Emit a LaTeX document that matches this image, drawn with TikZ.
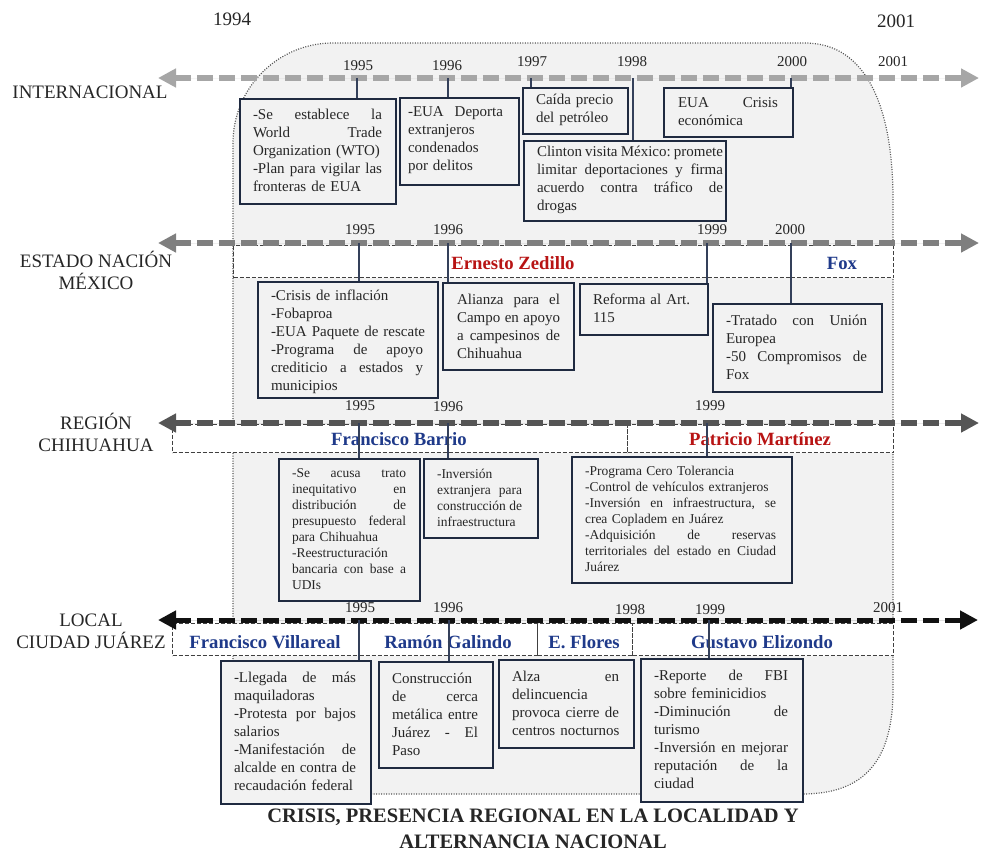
\documentclass[tikz,border=0pt]{standalone}
\usepackage{fontspec}
\setmainfont{Liberation Serif}
\usetikzlibrary{arrows.meta}
\definecolor{bgfill}{HTML}{F2F2F2}
\definecolor{boxc}{HTML}{1F2A40}
\definecolor{tickc}{HTML}{34405A}
\definecolor{txt}{HTML}{262626}
\definecolor{zred}{HTML}{B81414}
\definecolor{zblue}{HTML}{1F3A8A}
\definecolor{arI}{HTML}{A6A6A6}
\definecolor{arE}{HTML}{7F7F7F}
\definecolor{arR}{HTML}{555555}
\definecolor{arL}{HTML}{111111}
\definecolor{bandc}{HTML}{404040}
\definecolor{bgline}{HTML}{555555}
\newlength{\jw}
\newcommand{\T}[1]{\global\jw=#1\relax}
\newcommand{\J}[1]{\leavevmode\hbox to \jw{\frenchspacing\spaceskip=0pt\xspaceskip=0pt #1}}
\newcommand{\N}[1]{\leavevmode\mbox{\frenchspacing #1}}
\begin{document}
\begin{tikzpicture}[x=1pt,y=-1pt,
  evbox/.style={draw=boxc, line width=1.6pt, fill=bgfill, inner sep=0pt, anchor=north west},
  evtext/.style={font=\fontsize{15}{18}\selectfont, text=txt, inner sep=0pt, align=left},
  evsmall/.style={font=\fontsize{13.5}{16}\selectfont, text=txt, inner sep=0pt, align=left},
  bandbox/.style={draw=bandc, dash pattern=on 4pt off 2pt, line width=1.2pt, fill=white, inner sep=0pt, anchor=north west},
  bandred/.style={font=\fontsize{18.7}{22}\selectfont\bfseries, text=zred, inner sep=0pt},
  bandblue/.style={font=\fontsize{18.7}{22}\selectfont\bfseries, text=zblue, inner sep=0pt},
  tl/.style={dash pattern=on 16pt off 6pt, line width=6pt, {Triangle[length=18pt,width=18pt]}-{Triangle[length=18pt,width=18pt]}},
  tick/.style={draw=tickc, line width=1.1pt},
  yr/.style={font=\fontsize{15}{18}\selectfont, text=txt, inner sep=0pt},
  rowlab/.style={font=\fontsize{19}{22}\selectfont, text=txt, inner sep=0pt, align=center},
  bigyr/.style={font=\fontsize{19}{22}\selectfont, text=txt, inner sep=0pt}
]
\useasboundingbox (0,0) rectangle (981,852);

% background
\path[draw=bgline, dash pattern=on 1pt off 1.5pt, line width=1.2pt, fill=bgfill]
  (233,794) -- (233,143) .. controls (233,87.8) and (277.8,43) .. (333,43)
  -- (805,43) .. controls (868,43) and (893,110) .. (893,200)
  -- (893,690) .. controls (893,760) and (865,794) .. (802,794) -- cycle;

% bands
\node[bandbox, minimum width=557pt, minimum height=32pt] (bZed) at (233,245) {};
\node[bandbox, minimum width=103pt, minimum height=32pt] (bFox) at (790,245) {};
\node[bandbox, minimum width=455pt, minimum height=28pt] (bBar) at (172,424) {};
\node[bandbox, minimum width=266pt, minimum height=28pt] (bPat) at (627,424) {};
\node[bandbox, minimum width=187pt, minimum height=32pt] (bVil) at (172,623) {};
\node[bandbox, minimum width=178pt, minimum height=32pt] (bGal) at (359,623) {};
\node[bandbox, minimum width=95pt, minimum height=32pt] (bFlo) at (537,623) {};
\node[bandbox, minimum width=261pt, minimum height=32pt] (bGus) at (632,623) {};

% band labels
\node[bandred] (lZed) at (513,263) {Ernesto Zedillo};
\node[bandblue] (lFox) at (842,263) {Fox};
\node[bandblue] (lBar) at (399,439) {Francisco Barrio};
\node[bandred] (lPat) at (760,439) {Patricio Martínez};
\node[bandblue] (lVil) at (265,642) {Francisco Villareal};
\node[bandblue] (lGal) at (448,642) {Ramón Galindo};
\node[bandblue] (lFlo) at (584,642) {E. Flores};
\node[bandblue] (lGus) at (762,642) {Gustavo Elizondo};

% timeline arrows
\coordinate (iL) at (158,78);  \coordinate (iR) at (979,78);
\coordinate (eL) at (158,243); \coordinate (eR) at (979,243);
\coordinate (rL) at (158,423); \coordinate (rR) at (979,423);
\coordinate (lL) at (158,620); \coordinate (lR) at (978,620);
\draw[tl, draw=arI, fill=arI] (iL) -- (iR);
\draw[tl, draw=arE, fill=arE] (eL) -- (eR);
\draw[tl, draw=arR, fill=arR] (rL) -- (rR);
\draw[tl, draw=arL, fill=arL, line width=5pt] (lL) -- (lR);

% event boxes
\node[evbox, minimum width=156pt, minimum height=105pt] (bA) at (239,98) {};
\node[evbox, minimum width=119pt, minimum height=87pt] (bB) at (399,97) {};
\node[evbox, minimum width=105pt, minimum height=46pt] (bC) at (522,87) {};
\node[evbox, minimum width=202pt, minimum height=80pt] (bD) at (523,140) {};
\node[evbox, minimum width=129pt, minimum height=49pt] (bE) at (663,87) {};
\node[evbox, minimum width=180pt, minimum height=116pt] (bF) at (257,281) {};
\node[evbox, minimum width=131pt, minimum height=87pt] (bG) at (442,282) {};
\node[evbox, minimum width=128pt, minimum height=51pt] (bH) at (579,283) {};
\node[evbox, minimum width=169pt, minimum height=88pt] (bI) at (712,303) {};
\node[evbox, minimum width=141pt, minimum height=142pt] (bJ) at (278,458) {};
\node[evbox, minimum width=114pt, minimum height=79pt] (bK) at (423,458) {};
\node[evbox, minimum width=220pt, minimum height=126pt] (bL) at (571,456) {};
\node[evbox, minimum width=150pt, minimum height=143pt] (bM) at (220,660) {};
\node[evbox, minimum width=114pt, minimum height=106pt] (bN) at (378,661) {};
\node[evbox, minimum width=135pt, minimum height=88pt] (bO) at (498,659) {};
\node[evbox, minimum width=162pt, minimum height=143pt] (bP) at (640,658) {};

% ticks
\coordinate (kA) at (357,78);  \draw[tick] (kA) -- (kA |- bA.north);
\coordinate (kB) at (448,78);  \draw[tick] (kB) -- (kB |- bB.north);
\coordinate (kC) at (531,78);  \draw[tick] (kC) -- (kC |- bC.north);
\coordinate (kD) at (633,78);  \draw[tick] (kD) -- (kD |- bD.north);
\coordinate (kE) at (791,78);  \draw[tick] (kE) -- (kE |- bE.north);
\coordinate (kF) at (359,243); \draw[tick] (kF) -- (kF |- bF.north);
\coordinate (kG) at (448,243); \draw[tick] (kG) -- (kG |- bG.north);
\coordinate (kH) at (707,243); \draw[tick] (kH) -- (kH |- bH.north);
\coordinate (kI) at (791,243); \draw[tick] (kI) -- (kI |- bI.north);
\coordinate (kJ) at (359,423); \draw[tick] (kJ) -- (kJ |- bJ.north);
\coordinate (kK) at (448,423); \draw[tick] (kK) -- (kK |- bK.north);
\coordinate (kL) at (707,423); \draw[tick] (kL) -- (kL |- bL.north);
\coordinate (kM) at (359,620); \draw[tick] (kM) -- (kM |- bM.north);
\coordinate (kN) at (449,620); \draw[tick] (kN) -- (kN |- bN.north);
\coordinate (kP) at (709,620); \draw[tick] (kP) -- (kP |- bP.north);

% event texts
\node[evtext, text width=129pt] (tA) at (317.5,150.5) {\T{129pt}\J{-Se establece la}\\ \J{World Trade}\\ \N{Organization (WTO)}\\ \J{-Plan para vigilar las}\\ \N{fronteras de EUA}};
\node[evtext, text width=95pt] (tB) at (455.5,140.5) {\T{95pt}\J{-EUA Deporta}\\ \N{extranjeros}\\ \N{condenados}\\ \N{por delitos}};
\node[evtext, text width=84pt] (tC) at (578,110) {\N{Caída precio}\\ \N{del petróleo}};
\node[evtext, text width=186pt] (tD) at (630,180) {\T{186pt}\J{Clinton visita México: promete}\\ \J{limitar deportaciones y firma}\\ \J{acuerdo contra tráfico de}\\ \N{drogas}};
\node[evtext, text width=100pt] (tE) at (728,111.5) {\T{100pt}\J{EUA Crisis}\\ \N{económica}};
\node[evtext, text width=152pt] (tF) at (347,342) {\T{152pt}\N{-Crisis de inflación}\\ \N{-Fobaproa}\\ \N{-EUA Paquete de rescate}\\ \J{-Programa de apoyo}\\ \J{crediticio a estados y}\\ \N{municipios}};
\node[evtext, text width=103pt] (tG) at (508.5,326) {\T{103pt}\J{Alianza para el}\\ \J{Campo en apoyo}\\ \J{a campesinos de}\\ \N{Chihuahua}};
\node[evtext, text width=100pt] (tH) at (643,308.5) {\N{Reforma al Art.}\\ \N{115}};
\node[evtext, text width=141pt] (tI) at (796.5,347) {\T{141pt}\J{-Tratado con Unión}\\ \N{Europea}\\ \J{-50 Compromisos de}\\ \N{Fox}};
\node[evsmall, text width=114pt] (tJ) at (349,529) {\T{114pt}\J{-Se acusa trato}\\ \J{inequitativo en}\\ \J{distribución de}\\ \J{presupuesto federal}\\ \N{para Chihuahua}\\ \N{-Reestructuración}\\ \J{bancaria con base a}\\ \N{UDIs}};
\node[evsmall, text width=85pt] (tK) at (479.5,497.5) {\T{85pt}\N{-Inversión}\\ \J{extranjera para}\\ \J{construcción de}\\ \N{infraestructura}};
\node[evsmall, text width=191pt] (tL) at (680.5,519) {\T{191pt}\N{-Programa Cero Tolerancia}\\ \N{-Control de vehículos extranjeros}\\ \J{-Inversión en infraestructura, se}\\ \N{crea Copladem en Juárez}\\ \J{-Adquisición de reservas}\\ \J{territoriales del estado en Ciudad}\\ \N{Juárez}};
\node[evtext, text width=122pt] (tM) at (295,731.5) {\T{122pt}\J{-Llegada de más}\\ \N{maquiladoras}\\ \J{-Protesta por bajos}\\ \N{salarios}\\ \J{-Manifestación de}\\ \J{alcalde en contra de}\\ \N{recaudación federal}};
\node[evtext, text width=86pt] (tN) at (435,714) {\T{86pt}\N{Construcción}\\ \J{de cerca}\\ \J{metálica entre}\\ \J{Juárez - El}\\ \N{Paso}};
\node[evtext, text width=107pt] (tO) at (565.5,703) {\T{107pt}\J{Alza en}\\ \N{delincuencia}\\ \J{provoca cierre de}\\ \N{centros nocturnos}};
\node[evtext, text width=134pt] (tP) at (721,729.5) {\T{134pt}\J{-Reporte de FBI}\\ \N{sobre feminicidios}\\ \J{-Diminución de}\\ \N{turismo}\\ \J{-Inversión en mejorar}\\ \J{reputación de la}\\ \N{ciudad}};

% years
\node[yr] (yI95) at (358,66) {1995};
\node[yr] (yI96) at (447,66) {1996};
\node[yr] (yI97) at (532,62) {1997};
\node[yr] (yI98) at (632,62) {1998};
\node[yr] (yI00) at (792,62) {2000};
\node[yr] (yI01) at (893,62) {2001};
\node[yr] (yE95) at (360,230) {1995};
\node[yr] (yE96) at (448,230) {1996};
\node[yr] (yE99) at (712,230) {1999};
\node[yr] (yE00) at (790,230) {2000};
\node[yr] (yR95) at (360,406) {1995};
\node[yr] (yR96) at (448,407) {1996};
\node[yr] (yR99) at (710,406) {1999};
\node[yr] (yL95) at (360,608) {1995};
\node[yr] (yL96) at (448,608) {1996};
\node[yr] (yL98) at (630,610) {1998};
\node[yr] (yL99) at (710,610) {1999};
\node[yr] (yL01) at (888,608) {2001};

% row labels
\node[rowlab] (rI) at (90,92) {INTERNACIONAL};
\node[rowlab] (rE) at (96,270) {ESTADO NACIÓN\\MÉXICO};
\node[rowlab] (rR) at (96,432) {REGIÓN\\CHIHUAHUA};
\node[rowlab] (rL) at (91,631) {LOCAL\\CIUDAD JUÁREZ};

% top years
\node[bigyr] (y94) at (232,19) {1994};
\node[bigyr] (y01) at (896,21) {2001};

% title
\node[font=\fontsize{20.5}{26}\selectfont\bfseries, text=txt, align=center, inner sep=0pt] (title) at (533,829) {CRISIS, PRESENCIA REGIONAL EN LA LOCALIDAD Y\\ALTERNANCIA NACIONAL};
\end{tikzpicture}
\end{document}
